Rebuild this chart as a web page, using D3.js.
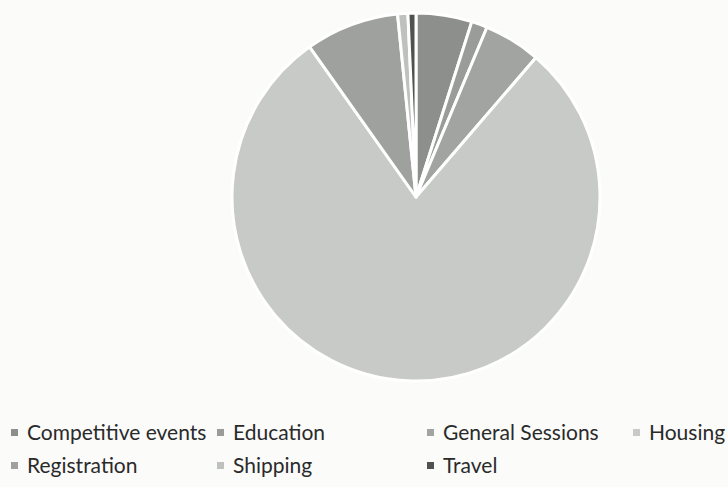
<!DOCTYPE html>
<html lang="en">
<head>
    <meta charset="UTF-8">
    <title>Pie</title>
    <script src="https://cdn.jsdelivr.net/npm/d3@7/dist/d3.min.js"></script>
    <style>
        body { margin: 0; background: #fbfbfa; }
        text { font-family: Lato, "Open Sans", sans-serif; }
    </style>
</head>
<body>
<script>

    var width = 728;
    var height = 487;

    // data (percent of total)
    var categories = ['Competitive events', 'Education', 'General Sessions', 'Housing', 'Registration', 'Shipping', 'Travel'];
    var values = [4.9, 1.4, 5.0, 78.8, 8.2, 0.9, 0.7];
    var colors = ['#8c8f8c', '#9a9c9a', '#a2a4a2', '#c8cac8', '#9fa19f', '#bfc1bf', '#4f524f'];

    // legend rows as in the picture
    var legendX = [11, 217, 427, 633, 11, 217, 427];
    var legendRow = [0, 0, 0, 0, 1, 1, 1];

    var svg = d3.select('body')
        .append('svg')
        .attr('width', width)
        .attr('height', height)

    var data = categories.map(function (c, i) {
        return {name: c, value: values[i], color: colors[i]};
    });

    var pie = d3.pie()
        .sort(null)
        .value(function (d) { return d.value; });

    var arc = d3.arc()
        .innerRadius(0)
        .outerRadius(184);

    var g = svg.append('g')
        .attr('transform', 'translate(416,197)');

    g.selectAll('path')
        .data(pie(data))
        .enter()
        .append('path')
        .attr('d', arc)
        .attr('fill', function (d) { return d.data.color; })
        .attr('stroke', '#ffffff')
        .attr('stroke-width', 3)
        .attr('stroke-linejoin', 'round');

    var legend = svg.selectAll('.legend')
        .data(data)
        .enter()
        .append('g')
        .attr('class', 'legend')
        .attr('transform', function (d, i) {
            return 'translate(' + legendX[i] + ',' + (433 + legendRow[i] * 33) + ')';
        });

    legend.append('rect')
        .attr('x', 0)
        .attr('y', -4)
        .attr('width', 7)
        .attr('height', 7)
        .attr('fill', function (d) { return d.color; });

    legend.append('text')
        .attr('x', 16)
        .attr('y', 7)
        .attr('font-size', 21)
        .attr('fill', '#2a2a2a')
        .text(function (d) { return d.name; });

</script>
</body>
</html>
